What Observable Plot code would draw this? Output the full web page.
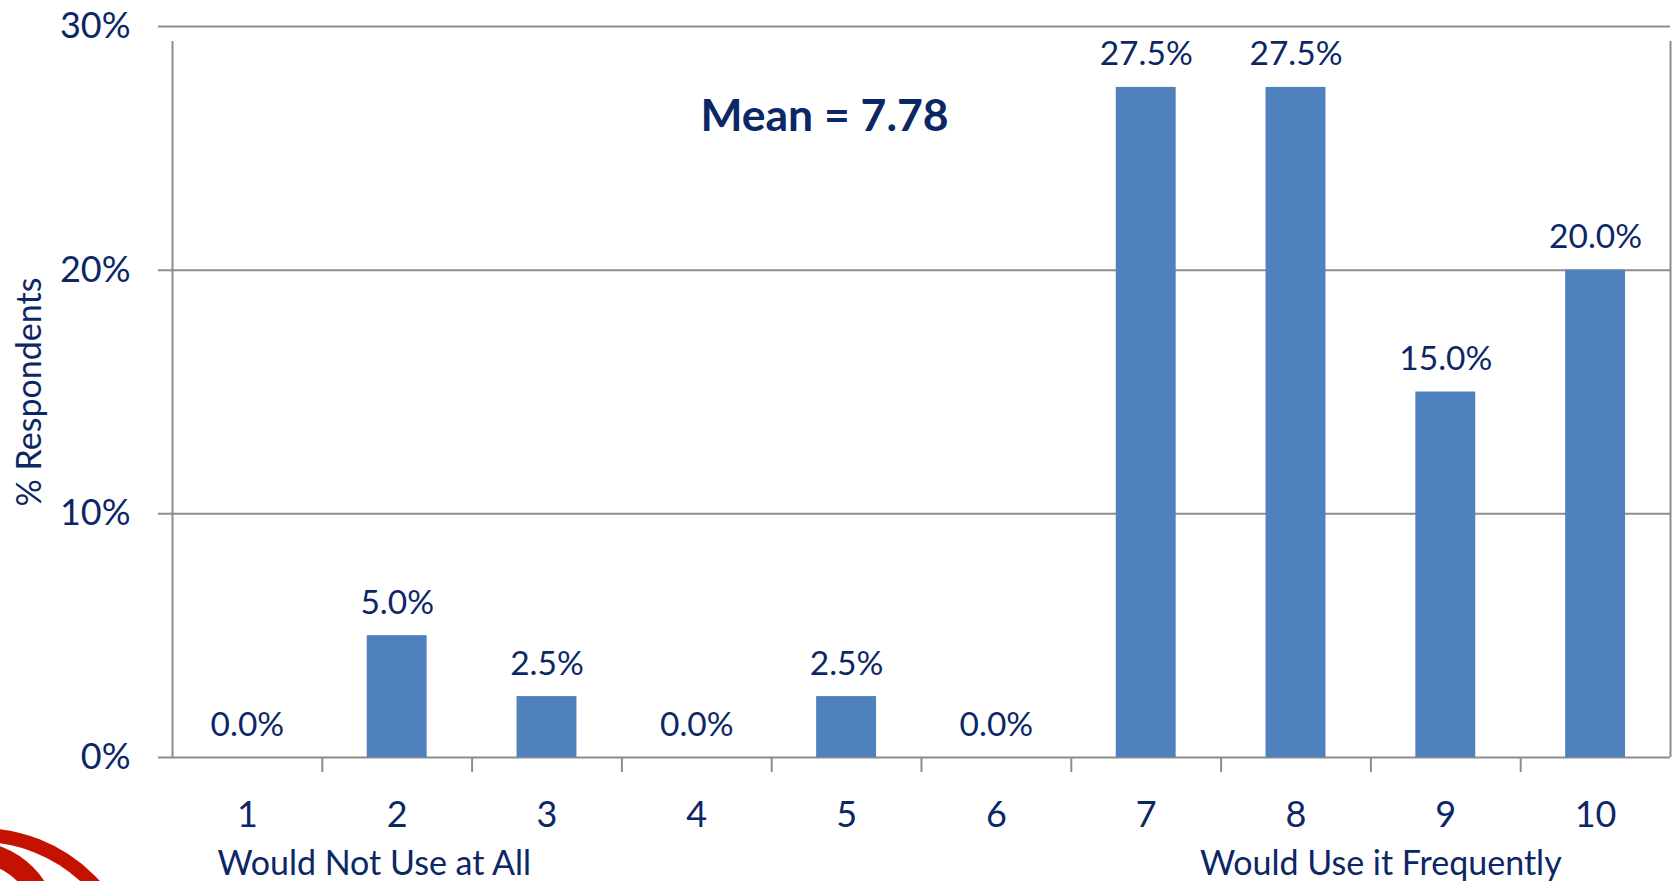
<!DOCTYPE html>
<html>
<head>
<meta charset="utf-8">
<script src="https://cdn.jsdelivr.net/npm/d3@7"></script>
<script src="https://cdn.jsdelivr.net/npm/@observablehq/plot@0.6"></script>
<style>
  html, body { margin: 0; padding: 0; background: #fff; }
  #wrap { position: relative; width: 1675px; height: 881px; overflow: hidden; }
  #logo { position: absolute; left: 0; top: 0; pointer-events: none; }
</style>
</head>
<body>
<div id="wrap"></div>
<script>
const categories = ["1", "2", "3", "4", "5", "6", "7", "8", "9", "10"];
const percents = [0.0, 5.0, 2.5, 0.0, 2.5, 0.0, 27.5, 27.5, 15.0, 20.0];
const yTicks = [0, 10, 20, 30];
const title = "Mean = 7.78";
const yLabel = "% Respondents";
const lowLabel = "Would Not Use at All";
const highLabel = "Would Use it Frequently";

const data = categories.map((c, i) => ({cat: c, pct: percents[i]}));

const W = 1675, H = 881;
const mL = 172, mR = 5, mT = 26, mB = 124;
const step = (W - mL - mR) / categories.length;
const navy = "#0c2766";
const grid = "#8c8c8c";
const font = "Lato, 'Open Sans', sans-serif";

const chart = Plot.plot({
  width: W,
  height: H,
  marginLeft: mL,
  marginRight: mR,
  marginTop: mT,
  marginBottom: mB,
  style: {fontFamily: font, background: "#fff"},
  x: {domain: categories, type: "band", paddingInner: 0.6, paddingOuter: 0.3, round: false, axis: null},
  y: {domain: [0, 30], axis: null},
  marks: [
    Plot.ruleY(yTicks, {stroke: grid, strokeWidth: 2, insetLeft: -14}),
    Plot.ruleX(categories.slice(1), {x: d => d, y1: 0, y2: 0, insetBottom: -15, dx: -step / 2, stroke: grid, strokeWidth: 2}),
    Plot.ruleX([categories[0]], {x: d => d, y1: 0, y2: 30, insetBottom: -15, dx: -step / 2, stroke: grid, strokeWidth: 2}),
    Plot.ruleX([categories[categories.length - 1]], {x: d => d, y1: 0, y2: 30, insetBottom: -15, dx: step / 2, stroke: grid, strokeWidth: 2}),
    Plot.barY(data, {x: "cat", y: "pct", fill: "#4f81bd"}),
    Plot.text(data, {x: "cat", y: "pct", text: d => d.pct.toFixed(1) + "%", lineAnchor: "bottom", dy: -22, fill: navy, fontSize: 33.5}),
    Plot.text(yTicks, {y: d => d, text: d => d + "%", frameAnchor: "left", dx: -42, textAnchor: "end", fill: navy, fontSize: 36}),
    Plot.text(categories, {x: d => d, y: () => 0, text: d => d, lineAnchor: "bottom", dy: 69, fill: navy, fontSize: 36}),
    Plot.text([yLabel], {frameAnchor: "left", textAnchor: "middle", dx: -142, rotate: -90, fill: navy, fontSize: 34}),
    Plot.text([title], {frameAnchor: "top", dx: 824 - (mL + (W - mR)) / 2, dy: 104, lineAnchor: "bottom", fill: navy, fontSize: 44.5, fontWeight: "bold"}),
    Plot.text([lowLabel], {x: () => categories[1], y: () => 0, lineAnchor: "bottom", dy: 117, dx: -23, fill: navy, fontSize: 34}),
    Plot.text([highLabel], {x: () => categories[8], y: () => 0, lineAnchor: "bottom", dy: 117, dx: -65, fill: navy, fontSize: 34})
  ]
});
document.getElementById("wrap").appendChild(chart);

// decorative corporate logo arcs (bottom-left corner)
const ns = "http://www.w3.org/2000/svg";
const logo = document.createElementNS(ns, "svg");
logo.setAttribute("id", "logo");
logo.setAttribute("width", W);
logo.setAttribute("height", H);
logo.innerHTML =
  '<circle cx="-20" cy="990" r="155" fill="none" stroke="#c41200" stroke-width="14"/>' +
  '<circle cx="-30" cy="930" r="78.5" fill="none" stroke="#c41200" stroke-width="21"/>';
document.getElementById("wrap").appendChild(logo);
</script>
</body>
</html>
